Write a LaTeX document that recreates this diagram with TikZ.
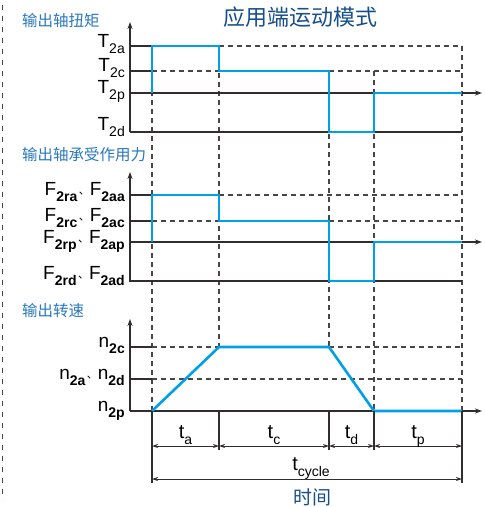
\documentclass[tikz,border=0pt]{standalone}
\usepackage{fontspec}
\setmainfont{Liberation Sans}
\newfontfamily\cjk{Noto Sans CJK SC}
\usetikzlibrary{arrows.meta,positioning}
\definecolor{curvecolor}{RGB}{0,160,233}
\definecolor{titlecolor}{RGB}{22,78,140}
\definecolor{labelcolor}{RGB}{40,120,190}
\definecolor{axiscolor}{RGB}{50,45,45}
\definecolor{gridcolor}{RGB}{70,70,70}

\tikzset{
  axisline/.style={draw=axiscolor, line width=1.1pt},
  axisarrow/.style={axisline, -{Stealth[length=7pt,width=5pt]}},
  gridline/.style={draw=gridcolor, line width=1.1pt, dash pattern=on 5pt off 4pt},
  curve/.style={draw=curvecolor, line width=2.6pt, line join=miter},
  dimline/.style={draw=axiscolor, line width=0.9pt,
    {Stealth[length=6pt,width=4pt]}-{Stealth[length=6pt,width=4pt]}},
  levellabel/.style={anchor=base east, inner sep=0pt, font=\fontsize{19}{19}\selectfont},
  forcelabel/.style={levellabel, font=\fontsize{19}{19}\selectfont},
  timelabel/.style={anchor=base, inner sep=0pt, font=\fontsize{20}{20}\selectfont},
  sectiontitle/.style={anchor=west, inner sep=0pt, text=labelcolor,
    font=\cjk\fontsize{15.5}{16}\selectfont},
}
% label with lowered subscript
\newcommand\lvl[2]{#1\raisebox{-6.5pt}{\fontsize{14}{14}\selectfont #2}}
\newcommand\lvlb[2]{#1\raisebox{-6.5pt}{\fontsize{14}{14}\selectfont\bfseries #2}}
\newcommand\sep{\hspace{1.5pt}\raisebox{1pt}{\cjk\fontsize{11}{11}\selectfont 、}}

\begin{document}
\begin{tikzpicture}[x=1pt,y=-1pt]
  \useasboundingbox (0,0) rectangle (485,507);

  % left border
  \draw[gridcolor, line width=1.5pt, dash pattern=on 5pt off 6pt] (2.5,5) -- (2.5,500);

  % titles
  \node[text=titlecolor, font=\cjk\fontsize{22}{22}\selectfont, inner sep=0pt] (title) at (300,17) {应用端运动模式};
  \node[sectiontitle] (torquetitle) at (22,21) {输出轴扭矩};
  \node[sectiontitle] (forcetitle) at (22,155) {输出轴承受作用力};
  \node[sectiontitle] (speedtitle) at (22,311) {输出转速};

  % time marks
  \foreach \n/\x in {t0/152, t1/219, t2/329, t3/374, t4/462} {
    \coordinate (\n top) at (\x,46);
    \coordinate (\n low) at (\x,411);
    \coordinate (\n dim) at (\x,446);
  }
  \coordinate (t2top) at (329,71);
  \coordinate (t3top) at (374,71);

  % vertical dashed lines
  \draw[gridline] (t0top) -- (t0low);
  \draw[gridline] (t1top) -- (219,347);
  \draw[gridline] (t2top) -- (329,347);
  \draw[gridline] (t3top) -- (t3low);
  \draw[gridline] (t4top) -- (t4low);

  % ---------- torque ----------
  \coordinate (T0) at (130,93);
  \draw[axisarrow] (130,132) -- (130,22);
  \draw[axisarrow] (T0) -- (482,93);
  \draw[axisline] (130,46) -- (152,46);
  \draw[axisline] (130,71) -- (152,71);
  \draw[axisline] (130,132) -- (462,132);
  \draw[gridline] (219,46) -- (462,46);
  \draw[gridline] (152,71) -- (219,71);
  \draw[gridline] (329,71) -- (462,71);
  \draw[curve] (152,93) |- (219,46) |- (329,71) |- (374,132) |- (462,93);
  \node[levellabel] (T2a) at (125,47) {\lvl{T}{2a}};
  \node[levellabel] (T2c) at (125,71) {\lvl{T}{2c}};
  \node[levellabel] (T2p) at (125,93) {\lvl{T}{2p}};
  \node[levellabel] (T2d) at (125,130) {\lvl{T}{2d}};

  % ---------- force ----------
  \coordinate (F0) at (130,242);
  \draw[axisarrow] (130,282) -- (130,172);
  \draw[axisarrow] (F0) -- (482,242);
  \draw[axisline] (130,195) -- (152,195);
  \draw[axisline] (130,221) -- (152,221);
  \draw[axisline] (130,281) -- (462,281);
  \draw[gridline] (219,195) -- (462,195);
  \draw[gridline] (152,221) -- (219,221);
  \draw[gridline] (329,221) -- (462,221);
  \draw[curve] (152,242) |- (219,195) |- (329,221) |- (374,281) |- (462,242);
  \node[forcelabel] (F2a) at (125,195) {\lvlb{F}{2ra}\sep\lvlb{F}{2aa}};
  \node[forcelabel] (F2c) at (125,221) {\lvlb{F}{2rc}\sep\lvlb{F}{2ac}};
  \node[forcelabel] (F2p) at (125,243) {\lvlb{F}{2rp}\sep\lvlb{F}{2ap}};
  \node[forcelabel] (F2d) at (125,279) {\lvlb{F}{2rd}\sep\lvlb{F}{2ad}};

  % ---------- speed ----------
  \coordinate (n0) at (130,411);
  \draw[axisarrow] (n0) -- (130,319);
  \draw[axisarrow] (n0) -- (482,411);
  \draw[axisline] (130,347) -- (152,347);
  \draw[axisline] (130,379) -- (152,379);
  \draw[gridline] (152,347) -- (219,347);
  \draw[gridline] (329,347) -- (462,347);
  \draw[gridline] (152,379) -- (462,379);
  \draw[curve] (152,411) -- (219,347) -- (329,347) -- (374,411) -- (462,411);
  \node[levellabel] (n2c) at (125,347) {\lvlb{n}{2c}};
  \node[levellabel] (n2d) at (125,379) {\lvlb{n}{2a}\sep\lvlb{n}{2d}};
  \node[levellabel] (n2p) at (125,411) {\lvlb{n}{2p}};

  % ---------- time spans ----------
  \coordinate (c0) at (152,479);
  \coordinate (c4) at (462,479);
  \draw[axisline] (t0low) -- (152,483);
  \draw[axisline] (t4low) -- (462,483);
  \foreach \n in {t1,t2,t3}
    \draw[axisline] (\n low) -- ++(0,39);
  \draw[dimline] (t0dim) -- (t1dim);
  \draw[dimline] (t1dim) -- (t2dim);
  \draw[dimline] (t2dim) -- (t3dim);
  \draw[dimline] (t3dim) -- (t4dim);
  \draw[dimline] (c0) -- (c4);
  \node[timelabel] (ta) at (185.5,438) {\lvl{t}{a}};
  \node[timelabel] (tc) at (274,438) {\lvl{t}{c}};
  \node[timelabel] (td) at (351.5,438) {\lvl{t}{d}};
  \node[timelabel] (tp) at (418,438) {\lvl{t}{p}};
  \node[timelabel] (tcycle) at (311,470) {\lvl{t}{cycle}};
  \node[text=titlecolor, font=\cjk\fontsize{19}{19}\selectfont, inner sep=0pt] (time) at (312,497) {时间};
\end{tikzpicture}
\end{document}
